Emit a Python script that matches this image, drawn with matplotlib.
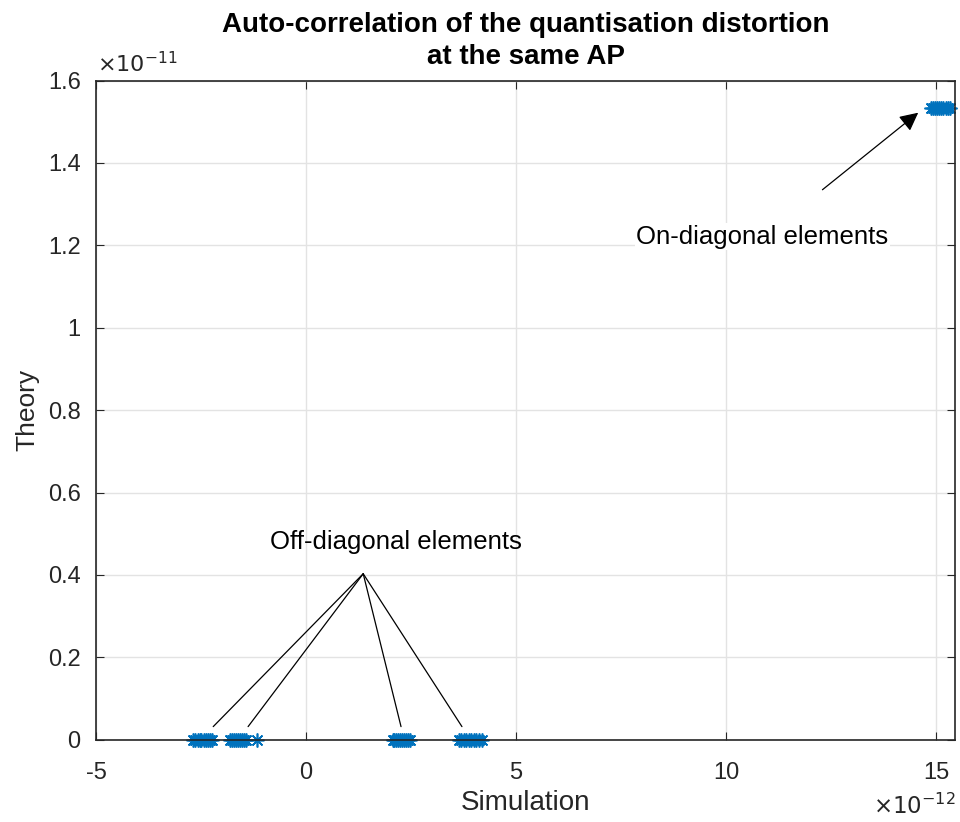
import numpy as np
import matplotlib
matplotlib.use("Agg")
import matplotlib.pyplot as plt

plt.rcParams['font.family'] = ['Liberation Sans', 'DejaVu Sans']
plt.rcParams['axes.unicode_minus'] = False

# simulation values (x 1e-12) and theory values (x 1e-11)
sim_off = [-2.68, -2.64, -2.58, -2.53, -2.49, -2.44, -2.39, -2.33, -2.28, -2.25,
           -1.82, -1.77, -1.72, -1.67, -1.62, -1.57, -1.52, -1.47, -1.44, -1.17,
           2.06, 2.10, 2.15, 2.19, 2.24, 2.29, 2.34, 2.39, 2.43, 2.47,
           3.63, 3.69, 3.75, 3.81, 3.87, 3.93, 3.99, 4.05, 4.12, 4.18]
theory_off = [0.0] * len(sim_off)

sim_on = [14.87, 14.92, 14.97, 15.02, 15.07, 15.12, 15.17, 15.22, 15.27, 15.32]
theory_on = [1.533] * len(sim_on)

xticks = [-5, 0, 5, 10, 15]
yticks = [0, 0.2, 0.4, 0.6, 0.8, 1, 1.2, 1.4, 1.6]
ytick_labels = ['0', '0.2', '0.4', '0.6', '0.8', '1', '1.2', '1.4', '1.6']

blue = '#0072BD'
dark = '#262626'

fig = plt.figure(figsize=(9.6, 8.22), dpi=100)
ax = fig.add_axes([0.1, 0.1, 0.895, 0.802])

star = (8, 2, 0)
ax.plot(sim_off, theory_off, linestyle='none', marker=star, color=blue,
        markersize=10, markeredgewidth=1.2, clip_on=False)
ax.plot(sim_on, theory_on, linestyle='none', marker=star, color=blue,
        markersize=10, markeredgewidth=1.2, clip_on=False)

ax.set_xlim(-5, 15.45)
ax.set_ylim(0, 1.6)
ax.set_xticks(xticks)
ax.set_yticks(yticks)
ax.set_yticklabels(ytick_labels)
ax.tick_params(direction='in', top=True, right=True, labelsize=17,
               colors=dark, length=6)
ax.tick_params(axis='x', pad=16)
ax.tick_params(axis='y', pad=11)
for s in ax.spines.values():
    s.set_color(dark)
    s.set_linewidth(1.2)
ax.grid(True, color='#e3e3e3', linewidth=1.0)
ax.set_axisbelow(True)

ax.set_xlabel('Simulation', fontsize=20, color=dark, labelpad=4)
ax.set_ylabel('Theory', fontsize=19, color=dark, labelpad=6)
ax.set_title('Auto-correlation of the quantisation distortion\nat the same AP',
             fontsize=20, fontweight='bold', color='black', pad=12,
             linespacing=1.3)

ax.text(0.001, 1 + 8 / 659, r'$\times10^{-11}$', transform=ax.transAxes,
        fontsize=16, color=dark, ha='left', va='baseline')
ax.text(1.0, -74 / 659, r'$\times10^{-12}$', transform=ax.transAxes,
        fontsize=16.5, color=dark, ha='right', va='baseline')

# off-diagonal annotation
ax.text(2.14, 0.48, 'Off-diagonal elements', fontsize=18.5, ha='center',
        va='center', color='black')
for xe in [-2.21, -1.38, 2.26, 3.71]:
    ax.annotate('', xy=(xe, 0.032), xytext=(1.36, 0.403),
                arrowprops=dict(arrowstyle='-', color='black', lw=0.9,
                                shrinkA=0, shrinkB=0))

# on-diagonal annotation
ax.text(10.86, 1.221, 'On-diagonal elements', fontsize=18.5, ha='center',
        va='center', color='black',
        bbox=dict(facecolor='white', edgecolor='none', pad=1))
ax.annotate('', xy=(14.57, 1.522), xytext=(12.29, 1.335),
            arrowprops=dict(arrowstyle='-|>', color='black', lw=0.9,
                            mutation_scale=28, shrinkA=0, shrinkB=0))

fig.savefig('out.png', dpi=100)
